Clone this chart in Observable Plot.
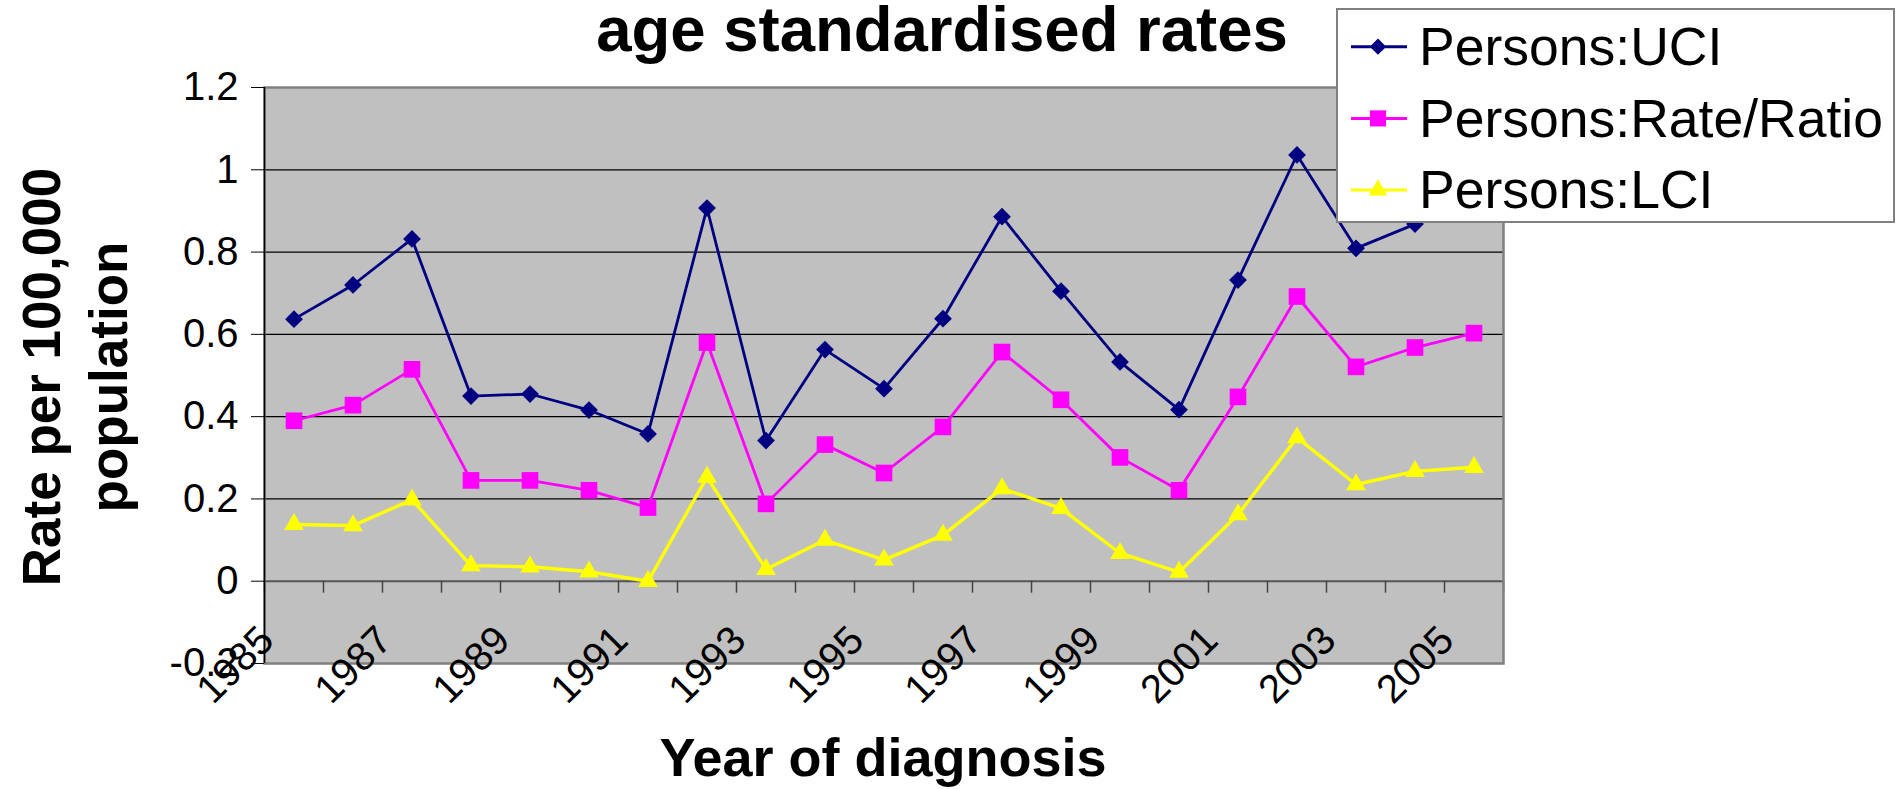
<!DOCTYPE html>
<html>
<head>
<meta charset="utf-8">
<script src="https://cdn.jsdelivr.net/npm/d3@7"></script>
<script src="https://cdn.jsdelivr.net/npm/@observablehq/plot@0.6"></script>
<style>
html, body { margin:0; padding:0; background:#fff; }
#wrap { position:relative; width:1904px; height:790px; overflow:hidden; }
#wrap svg { position:absolute; left:0; top:0; }
</style>
</head>
<body>
<div id="wrap"></div>
<script>
// ---- data ----
const years = [1985,1986,1987,1988,1989,1990,1991,1992,1993,1994,1995,1996,1997,1998,1999,2000,2001,2002,2003,2004,2005];
const uci  = [0.637,0.72,0.832,0.45,0.455,0.416,0.358,0.907,0.342,0.563,0.468,0.638,0.886,0.705,0.533,0.417,0.732,1.036,0.809,0.868,0.92];
const rate = [0.39,0.428,0.515,0.245,0.245,0.221,0.179,0.58,0.188,0.332,0.263,0.375,0.557,0.441,0.301,0.221,0.448,0.692,0.521,0.568,0.603];
const lci  = [0.138,0.135,0.198,0.038,0.035,0.023,0.0,0.253,0.029,0.1,0.052,0.112,0.225,0.177,0.068,0.022,0.162,0.349,0.235,0.267,0.277];
const yTicks = [-0.2,0,0.2,0.4,0.6,0.8,1,1.2];
const labelYears = [1985,1987,1989,1991,1993,1995,1997,1999,2001,2003,2005];
const seriesNames = ["Persons:UCI","Persons:Rate/Ratio","Persons:LCI"];
const seriesColors = ["#000080","#FF00FF","#FFFF00"];
const titleText = "age standardised rates";
const xTitle = "Year of diagnosis";
const yTitleLines = ["Rate per 100,000","population"];

const FONT = "'Liberation Sans', Arial, Helvetica, sans-serif";
const rows = years.map((year,i)=>({year, uci:uci[i], rate:rate[i], lci:lci[i]}));
const bounds = d3.range(years.length+1).map(i => years[0]-0.5+i);
const fmt = d => String(Math.round(d*10)/10);
const keys = ["uci","rate","lci"];
const plotSymbols = ["diamond2","square","triangle"];
const symR = [8.0, 9.4, 7.3];
const lineW = [2.8, 2.8, 3.4];

const chart = Plot.plot({
  width:1904, height:790,
  marginLeft:264, marginRight:401, marginTop:87, marginBottom:127,
  x:{type:"linear", domain:[years[0]-0.5, years[years.length-1]+0.5], axis:null},
  y:{type:"linear", domain:[yTicks[0], yTicks[yTicks.length-1]]},
  style:{fontFamily:FONT, background:"transparent", color:"#000"},
  marks:[
    Plot.frame({fill:"#C0C0C0", stroke:null}),
    Plot.ruleY(yTicks.filter(v=>v!==0 && v>yTicks[0] && v<yTicks[yTicks.length-1]), {stroke:"#000", strokeWidth:1.2}),
    Plot.ruleY([0], {stroke:"#555", strokeWidth:2}),
    Plot.ruleX(bounds, {y1:0, y2:0, insetBottom:-12, stroke:"#444", strokeWidth:1.5}),
    Plot.frame({stroke:"#808080", strokeWidth:2.5}),
    Plot.ruleX([bounds[0]], {stroke:"#000", strokeWidth:1.5}),
    Plot.axisY({ticks:yTicks, tickFormat:fmt, tickSize:13, tickPadding:13, fontSize:40, label:null}),
    ...keys.flatMap((k,i)=>[
      Plot.line(rows, {x:"year", y:k, stroke:seriesColors[i], strokeWidth:lineW[i]}),
      Plot.dot(rows, {x:"year", y:k, symbol:plotSymbols[i], fill:seriesColors[i], stroke:null, r:symR[i]})
    ]),
    Plot.text(labelYears, {x:d=>d, text:d=>String(d), frameAnchor:"bottom", rotate:-45, textAnchor:"end", dx:-18, dy:-21, fontSize:40, fill:"#000"})
  ]
});
document.getElementById("wrap").appendChild(chart);

// ---- titles & legend overlay ----
const ov = d3.select("#wrap").append("svg").attr("width",1904).attr("height",790).style("font-family",FONT);
ov.append("text").attr("x",942).attr("y",51).attr("text-anchor","middle").attr("font-size",63.5).attr("font-weight","bold").text(titleText);
ov.append("text").attr("x",883).attr("y",776).attr("text-anchor","middle").attr("font-size",54).attr("font-weight","bold").text(xTitle);
yTitleLines.forEach((t,i)=> ov.append("text")
  .attr("transform",`translate(${60+67*i},377) rotate(-90)`)
  .attr("text-anchor","middle").attr("font-size",53).attr("font-weight","bold").text(t));

const d3Symbols = [d3.symbolDiamond2, d3.symbolSquare, d3.symbolTriangle];
const d3Sizes = [170, 260, 150];
const lg = ov.append("g").attr("transform","translate(1337,9)");
lg.append("rect").attr("width",557).attr("height",213).attr("fill","#fff").attr("stroke","#808080").attr("stroke-width",2);
seriesNames.forEach((n,i)=>{
  const cy = 37.7 + i*71.7;
  lg.append("line").attr("x1",14).attr("x2",70).attr("y1",cy).attr("y2",cy).attr("stroke",seriesColors[i]).attr("stroke-width",3);
  lg.append("path").attr("transform",`translate(41,${cy})`).attr("d", d3.symbol(d3Symbols[i], d3Sizes[i])()).attr("fill",seriesColors[i]);
  lg.append("text").attr("x",82).attr("y",cy+18.3).attr("font-size",53.5).text(n);
});
</script>
</body>
</html>
